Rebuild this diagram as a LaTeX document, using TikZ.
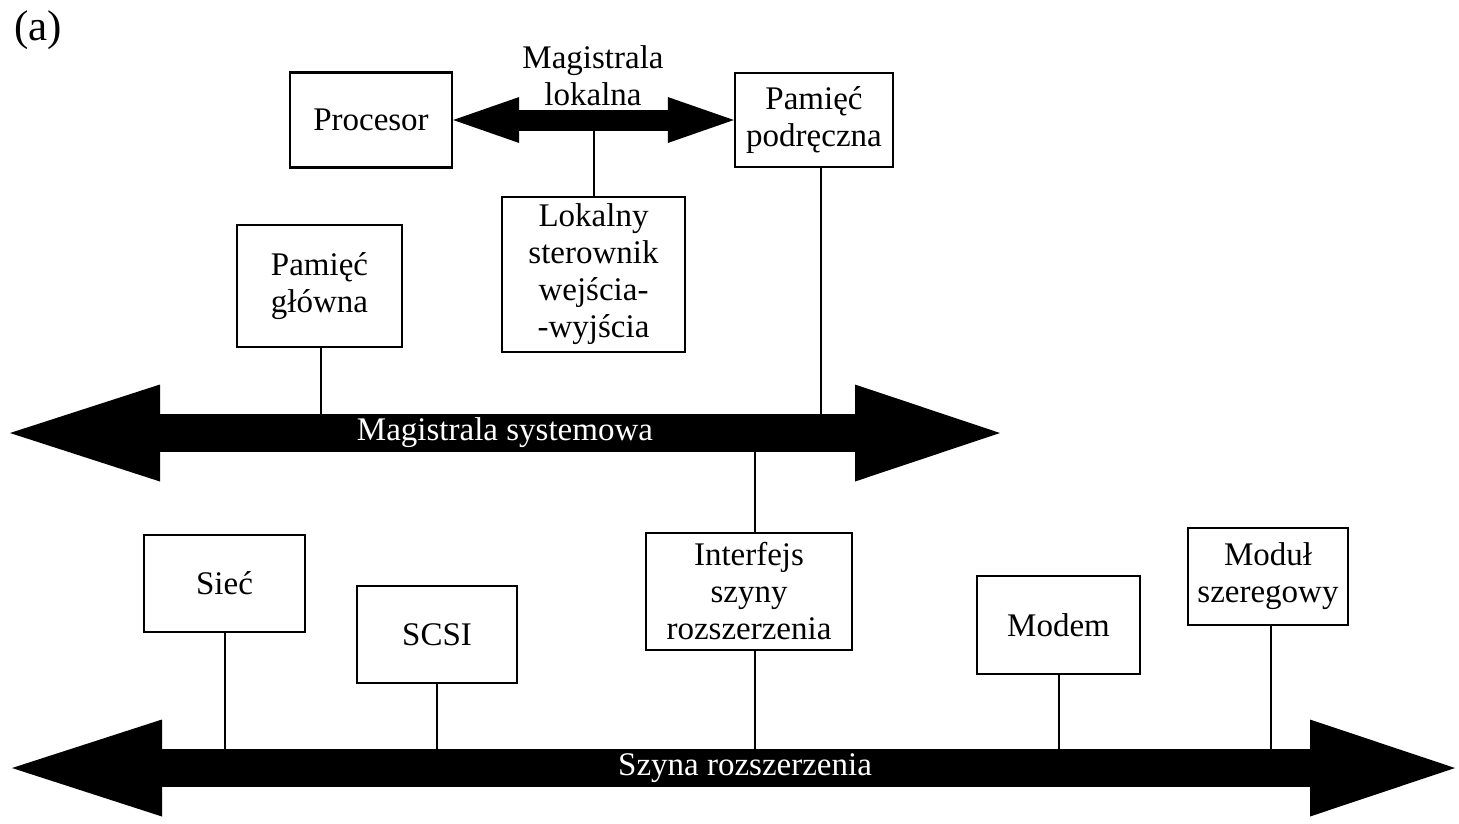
\documentclass[tikz,border=0pt]{standalone}
\usepackage{fontspec}
\setmainfont{Liberation Serif}
\usetikzlibrary{arrows.meta}

\begin{document}
\begin{tikzpicture}[x=1pt, y=-1pt,
        box/.style={draw, line width=2.4pt, align=center, inner sep=0pt,
            font=\fontsize{33}{37}\selectfont},
        wire/.style={line width=2pt},
        bus/.style={line width=38pt,
            {Triangle[length=150pt,width=97pt,line width=0pt]}-{Triangle[length=145pt,width=97pt,line width=0pt]}},
        lbus/.style={line width=21pt,
            {Triangle[length=66pt,width=46pt,line width=0pt]}-{Triangle[length=66pt,width=46pt,line width=0pt]}},
        bustext/.style={text=white, font=\fontsize{33}{37}\selectfont}]
        \useasboundingbox (0,0) rectangle (1459,823);

        \node[font=\fontsize{43}{48}\selectfont] (lbl) at (38,30) {(a)};

        % upper level
        \node[box, minimum width=162pt, minimum height=95pt] (procesor) at (371,120) {Procesor};
        \node[box, minimum width=158pt, minimum height=94pt] (podreczna) at (814,120) {Pamięć\\podręczna};
        \node[box, minimum width=183pt, minimum height=155pt] (lokalny) at (593.5,274.5) {Lokalny\\sterownik\\wejścia-\\-wyjścia};
        \node[box, minimum width=165pt, minimum height=122pt] (glowna) at (319.5,286) {Pamięć\\główna};
        \node[font=\fontsize{33}{37}\selectfont, align=center] (lokalna) at (593,76) {Magistrala\\lokalna};

        % lower level
        \node[box, minimum width=161pt, minimum height=97pt] (siec) at (224.5,583.5) {Sieć};
        \node[box, minimum width=160pt, minimum height=97pt] (scsi) at (437,634.5) {SCSI};
        \node[box, minimum width=206pt, minimum height=117pt] (interfejs) at (749,591.5) {Interfejs\\szyny\\rozszerzenia};
        \node[box, minimum width=163pt, minimum height=98pt] (modem) at (1058.5,625) {Modem};
        \node[box, minimum width=160pt, minimum height=97pt] (modul) at (1268,576.5) {Moduł\\szeregowy};

        % bus ends
        \coordinate (sysL) at (10,433);
        \coordinate (sysR) at (1000,433);
        \coordinate (extL) at (12,768);
        \coordinate (extR) at (1455,768);

        % connections
        \draw[wire] (lokalny.north) -- (lokalny.north |- procesor.east);
        \draw[wire] ([xshift=7pt]podreczna.south) -- ([xshift=7pt]podreczna.south |- sysL);
        \draw[wire] ([xshift=1.5pt]glowna.south) -- ([xshift=1.5pt]glowna.south |- sysL);
        \draw[wire] ([xshift=6pt]interfejs.north) -- ([xshift=6pt]interfejs.north |- sysL);
        \draw[wire] ([xshift=6pt]interfejs.south) -- ([xshift=6pt]interfejs.south |- extL);
        \foreach \n/\dx in {siec/0, scsi/0, modem/0, modul/3} {
            \draw[wire] ([xshift=\dx pt]\n.south) -- ([xshift=\dx pt]\n.south |- extL);
        }

        % buses
        \draw[lbus] (procesor.east) -- (podreczna.west);
        \draw[bus] (sysL) -- (sysR) node[bustext, midway] (systext) {Magistrala systemowa};
        \draw[bus] (extL) -- (extR) node[bustext, pos=0.508] (exttext) {Szyna rozszerzenia};
    \end{tikzpicture}
\end{document}
